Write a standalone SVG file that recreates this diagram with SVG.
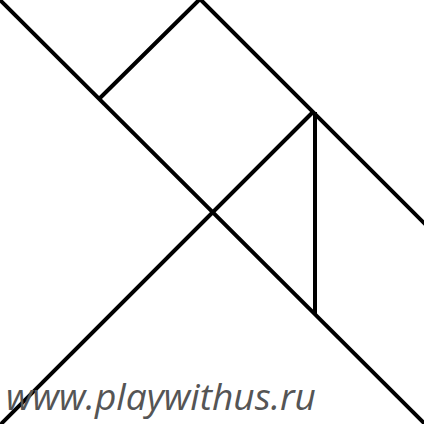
<svg xmlns="http://www.w3.org/2000/svg" width="424" height="424" viewBox="0 0 424 424">
<style>
.ln{stroke:#000;stroke-width:4;fill:none;stroke-linecap:butt}
.t{font-family:"Open Sans","DejaVu Sans",sans-serif;font-style:italic;font-size:37px;fill:#555}
</style>
<rect width="424" height="424" fill="#fff"/>
<g id="connectors">
<line class="ln" x1="-2" y1="-2" x2="426" y2="425"/>
<polyline class="ln" points="100,98 200,-1 426,225"/>
<line class="ln" x1="314" y1="111" x2="-3" y2="428"/>
<line class="ln" x1="315" y1="112" x2="315" y2="314"/>
</g>
<g id="label">
<text class="t" x="6" y="410" textLength="310" lengthAdjust="spacingAndGlyphs">www.playwithus.ru</text>
</g>
</svg>
